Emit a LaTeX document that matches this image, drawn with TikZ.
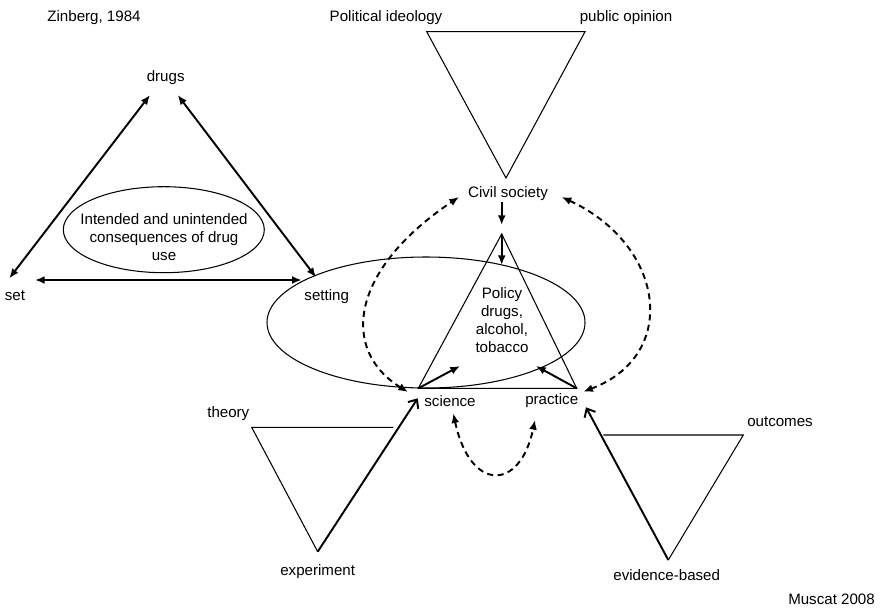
\documentclass[tikz,border=0pt]{standalone}
\usepackage{fontspec}
\setmainfont{Liberation Sans}
\usetikzlibrary{arrows.meta}

\begin{document}
\begin{tikzpicture}[x=0.02cm,y=-0.02cm,
 lbl/.style={inner sep=1pt, font=\fontsize{8.6}{10.4}\selectfont, align=center},
 outline/.style={line width=0.6pt},
 link/.style={line width=1.1pt, {Latex[length=5.5pt,width=4.5pt]}-{Latex[length=5.5pt,width=4.5pt]}},
 feed/.style={line width=1.1pt, -{Latex[length=5.5pt,width=4.5pt]}},
 dashlink/.style={line width=1.1pt, {Latex[length=5.5pt,width=4.5pt]}-{Latex[length=5.5pt,width=4.5pt]}, dash pattern=on 3.5pt off 2.5pt},
 input/.style={line width=1.1pt, -{Straight Barb[length=4pt,width=7pt]}}]

\useasboundingbox (0,0) rectangle (881,609);

%triangle corners
\coordinate (idL) at (426.7,31.7);
\coordinate (idR) at (585,31.7);
\coordinate (idB) at (506,178);
\coordinate (polT) at (501.7,234);
\coordinate (polL) at (418.3,388.3);
\coordinate (polR) at (576.7,388.3);
\coordinate (thL) at (251.7,427.3);
\coordinate (thR) at (393.3,427.3);
\coordinate (thB) at (317.7,551.7);
\coordinate (outL) at (603.3,435);
\coordinate (outR) at (743.3,435);
\coordinate (outB) at (668.3,560);

%labels
\node[lbl] (zinberg) at (94,18) {Zinberg, 1984};
\node[lbl] (polid) at (386,18) {Political ideology};
\node[lbl] (pubop) at (626,18) {public opinion};
\node[lbl] (drugs) at (165.7,77.3) {drugs};
\node[lbl] (set) at (15,296) {set};
\node[lbl] (setting) at (326.7,296.7) {setting};
\node[lbl] (conseq) at (164,237) {Intended and unintended\\consequences of drug\\use};
\node[lbl] (civil) at (508,194) {Civil society};
\node[lbl] (policy) at (502,320) {Policy\\drugs,\\alcohol,\\tobacco};
\node[lbl] (science) at (450,401) {science};
\node[lbl] (practice) at (551.7,401) {practice};
\node[lbl] (theory) at (228.3,414) {theory};
\node[lbl] (experiment) at (317.7,571.7) {experiment};
\node[lbl] (outcomes) at (780,421.7) {outcomes};
\node[lbl] (evidence) at (666.7,575) {evidence-based};
\node[lbl] (muscat) at (831.5,599) {Muscat 2008};

%arrow ends
\coordinate (drugsA) at (150,95);
\coordinate (drugsB) at (177.7,95);
\coordinate (setA) at (9.3,278.3);
\coordinate (setB) at (35,280);
\coordinate (settingA) at (316,277.3);
\coordinate (settingB) at (301.7,280);
\coordinate (civA) at (501.7,202);
\coordinate (civB) at (501.7,225);
\coordinate (civL) at (459,197);
\coordinate (civR) at (561.7,197);
\coordinate (polIn) at (501.7,265);
\coordinate (sciIn) at (460,366);
\coordinate (praIn) at (536,366);
\coordinate (sciA) at (408,392);
\coordinate (sciB) at (417.7,398.3);
\coordinate (sciC) at (453.3,413.3);
\coordinate (praA) at (583.3,391.7);
\coordinate (praB) at (586,407.3);
\coordinate (praC) at (535,420);

%shapes
\draw[outline] (163.8,229.7) ellipse [x radius=100.5, y radius=43];
\draw[outline] (426,322.5) ellipse [x radius=159, y radius=65.5];
\draw[outline] (idL) -- (idR) -- (idB) -- cycle;
\draw[outline] (polT) -- (polL) -- (polR) -- cycle;
\draw[outline] (thR) -- (thL) -- (thB);
\draw[outline] (outL) -- (outR) -- (outB);

%Zinberg triangle
\draw[link] (setA) -- (drugsA);
\draw[link] (drugsB) -- (settingA);
\draw[link] (setB) -- (settingB);

%civil society into policy
\draw[feed] (civA) -- (civB);
\draw[feed] (polT) -- (polIn);
\draw[feed] (polL) -- (sciIn);
\draw[feed] (polR) -- (praIn);

%feedback loops
\draw[dashlink] (sciA) .. controls (340,350) and (350,270) .. (civL);
\draw[dashlink] (civR) .. controls (665,245) and (680,355) .. (praA);
\draw[dashlink] (sciC) .. controls (470,492) and (520,492) .. (praC);

%inputs
\draw[input] (thB) -- (sciB);
\draw[input] (outB) -- (praB);

\end{tikzpicture}
\end{document}
